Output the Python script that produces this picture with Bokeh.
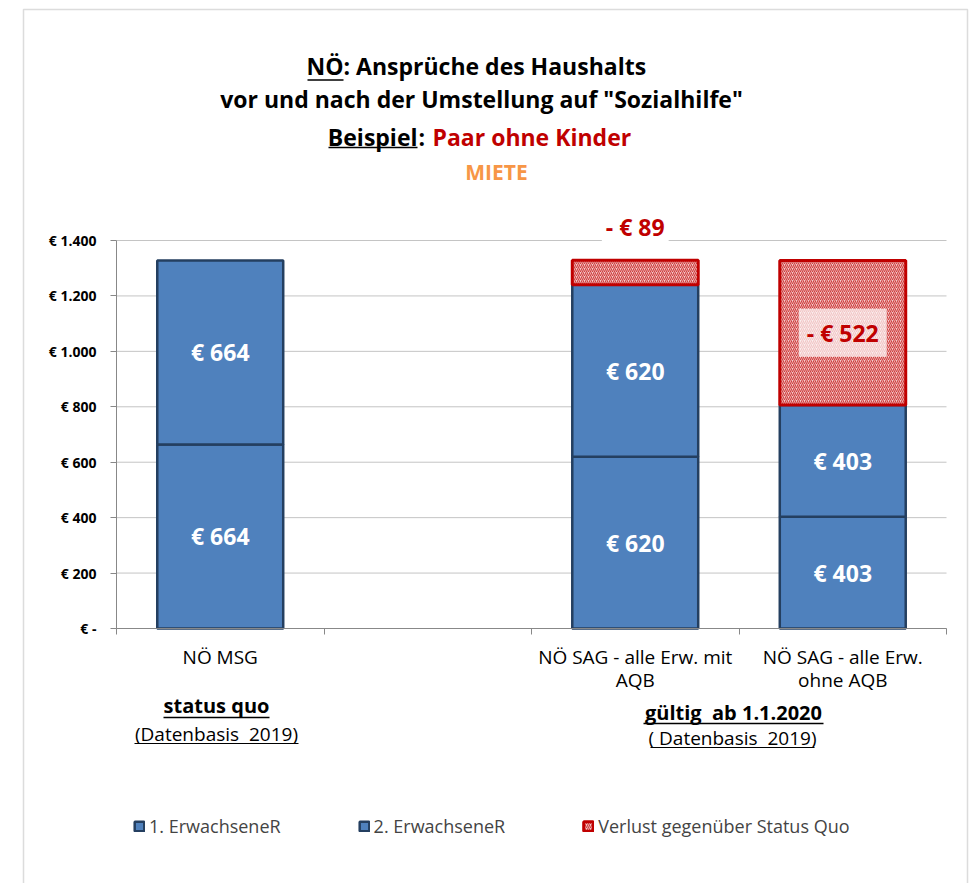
import numpy as np
from bokeh.plotting import figure
from bokeh.models import (ColumnDataSource, Range1d, FixedTicker, Label, Legend,
                          LegendItem, BoxAnnotation, Arrow)
from bokeh.core.properties import value
from bokeh.embed import file_html
from bokeh.resources import INLINE

# ---------------- data ----------------
categories = ["NÖ MSG", "NÖ SAG - alle Erw. mit AQB", "NÖ SAG - alle Erw. ohne AQB"]
tick_labels = ["NÖ MSG", "NÖ SAG - alle Erw. mit\nAQB", "NÖ SAG - alle Erw.\nohne AQB"]
slots = [0, 2, 3]          # category slot (slot 1 is an empty gap)
n_slots = 4
erw1 = [664, 620, 403]     # 1. ErwachseneR
erw2 = [664, 620, 403]     # 2. ErwachseneR
verlust = [0, 89, 522]     # Verlust gegenüber Status Quo
series_names = ["1. ErwachseneR", "2. ErwachseneR", "Verlust gegenüber Status Quo"]
y_ticks = [0, 200, 400, 600, 800, 1000, 1200, 1400]
y_tick_labels = ["€ -", "€ 200", "€ 400", "€ 600", "€ 800", "€ 1.000", "€ 1.200", "€ 1.400"]
y_max = 1400

# ---------------- geometry (page pixels of the plot area) ----------------
W, H = 969, 883
FL, FR, FT, FB = 116, 946, 240, 628


def dx(px):
    return (px - FL) / (FR - FL) * n_slots


def dy(py):
    return (FB - py) / (FB - FT) * y_max


FONT = "Open Sans"
BLUE = "#4F81BD"
NAVY = "#243F60"
RED = "#C00000"
ORANGE = "#F79646"
GRAY = "#888888"
NB = "\u00a0"

p = figure(width=W, height=H, x_range=Range1d(dx(0), dx(W)), y_range=Range1d(dy(H), dy(0)),
           output_backend="svg", toolbar_location=None, min_border=0)
p.outline_line_color = None
p.background_fill_color = "white"
p.border_fill_color = "white"
p.xgrid.grid_line_color = None
p.ygrid.grid_line_color = None

# gridlines (drawn through the data scales)
p.segment(x0=[0] * len(y_ticks), x1=[n_slots] * len(y_ticks), y0=y_ticks, y1=y_ticks,
          line_color="#C4C4C4", line_width=1)

# y axis
p.yaxis.fixed_location = 0
p.yaxis.bounds = (0, y_max)
p.yaxis.ticker = FixedTicker(ticks=y_ticks, minor_ticks=[])
p.yaxis.major_label_overrides = {t: l for t, l in zip(y_ticks, y_tick_labels)}
p.yaxis.major_label_text_font = FONT
p.yaxis.major_label_text_font_style = "bold"
p.yaxis.major_label_text_font_size = "14px"
p.yaxis.major_label_text_color = "black"
p.yaxis.axis_line_color = GRAY
p.yaxis.major_tick_line_color = GRAY
p.yaxis.major_tick_out = 6
p.yaxis.major_tick_in = 0
p.yaxis.minor_tick_line_color = None
p.yaxis.major_label_standoff = 14

# x axis
x_centers = [s + 0.5 for s in slots]
p.xaxis.fixed_location = 0
p.xaxis.bounds = (0, n_slots)
p.xaxis.ticker = FixedTicker(ticks=x_centers, minor_ticks=list(range(n_slots + 1)))
p.xaxis.major_label_overrides = {c: l for c, l in zip(x_centers, tick_labels)}
p.xaxis.major_label_text_font = FONT
p.xaxis.major_label_text_font_size = "19px"
p.xaxis.major_label_text_color = "black"
p.xaxis.major_label_text_line_height = 0.9
p.xaxis.axis_line_color = GRAY
p.xaxis.major_tick_line_color = None
p.xaxis.major_tick_out = 0
p.xaxis.major_tick_in = 0
p.xaxis.minor_tick_line_color = GRAY
p.xaxis.minor_tick_out = 6
p.xaxis.minor_tick_in = 0
p.xaxis.major_label_standoff = 9

# ---------------- bars ----------------
e1 = np.array(erw1, dtype=float)
e2 = np.array(erw2, dtype=float)
vl = np.array(verlust, dtype=float)
bw = 0.607

src = ColumnDataSource(dict(x=x_centers, b1=np.zeros(3), t1=e1, b2=e1, t2=e1 + e2,
                            m1=e1 / 2, m2=e1 + e2 / 2,
                            l1=[f"€ {int(v)}" for v in e1], l2=[f"€ {int(v)}" for v in e2]))
r1 = p.vbar(x="x", width=bw, bottom="b1", top="t1", source=src,
            fill_color=BLUE, line_color=NAVY, line_width=2.5)
r2 = p.vbar(x="x", width=bw, bottom="b2", top="t2", source=src,
            fill_color=BLUE, line_color=NAVY, line_width=2.5)

mask = vl > 0
src_l = ColumnDataSource(dict(x=np.array(x_centers)[mask], b=(e1 + e2)[mask],
                              t=(e1 + e2 + vl)[mask]))
r3 = p.vbar(x="x", width=bw, bottom="b", top="t", source=src_l,
            fill_color="#F2CACA", hatch_pattern="/", hatch_color=RED, hatch_alpha=0.7,
            hatch_scale=4, hatch_weight=1.1, line_color=RED, line_width=3)

for col_y, col_t in (("m1", "l1"), ("m2", "l2")):
    p.text(x="x", y=col_y, text=col_t, source=src, text_color="white",
           text_font=value(FONT), text_font_style="bold", text_font_size="23px",
           text_align="center", text_baseline="middle")

px_per_unit = (FB - FT) / y_max
for xc, base, v in zip(x_centers, e1 + e2, vl):
    if v <= 0:
        continue
    txt = f"- € {int(v)}"
    if v * px_per_unit < 45:
        lab = Label(x=xc, y=base + v, y_offset=33, text=txt, text_align="center",
                    text_baseline="middle", text_color=RED, text_font=FONT,
                    text_font_style="bold", text_font_size="23px",
                    background_fill_color="white", background_fill_alpha=1.0, padding=4)
    else:
        lab = Label(x=xc, y=base + v / 2, text=txt, text_align="center",
                    text_baseline="middle", text_color=RED, text_font=FONT,
                    text_font_style="bold", text_font_size="23px",
                    background_fill_color="white", background_fill_alpha=0.7, padding=8)
    p.add_layout(lab)

# ---------------- legend ----------------
legend = Legend(items=[LegendItem(label=series_names[0], renderers=[r1]),
                       LegendItem(label=series_names[1], renderers=[r2]),
                       LegendItem(label=series_names[2], renderers=[r3])],
                orientation="horizontal", location=(133, H - 838),
                border_line_color=None, background_fill_alpha=0, padding=0, margin=0,
                spacing=77, glyph_width=12, glyph_height=12, label_standoff=4,
                label_text_font=FONT, label_text_font_size="18px", label_height=18)
p.add_layout(legend)


# ---------------- texts ----------------
def add_text(text, px, mid_py, align="center", size="23px", style="bold", color="black"):
    p.add_layout(Label(x=dx(px), y=dy(mid_py), text=text, text_align=align,
                       text_baseline="middle", text_font=FONT, text_font_size=size,
                       text_font_style=style, text_color=color))


def underline(px0, px1, py, width=1.5):
    p.add_layout(Arrow(end=None, start=None, x_start=dx(px0), y_start=dy(py),
                       x_end=dx(px1), y_end=dy(py), line_color="black", line_width=width))


# title
add_text("NÖ", 343, 65, align="right")
add_text(": Ansprüche des Haushalts", 343, 65, align="left")
underline(307, 343, 79.5)
add_text('vor und nach der Umstellung auf "Sozialhilfe"', 481, 98)
add_text("Beispiel", 417, 136, align="right")
add_text(":", 418, 136, align="left")
add_text("Paar ohne Kinder", 432, 136, align="left", color=RED)
underline(328, 417, 147)
add_text("MIETE", 496, 171.5, size="21px", color=ORANGE)

# group labels
add_text("status quo", 216, 705, size="20px")
underline(163, 269, 717)
add_text(f"(Datenbasis {NB}2019)", 216, 733, size="19px", style="normal")
underline(134, 298, 743, width=1.2)
add_text(f"gültig {NB}ab 1.1.2020", 733, 712, size="20px")
underline(643, 823, 723)
add_text(f"( Datenbasis {NB}2019)", 732, 737.5, size="19px", style="normal")
underline(650, 814, 747, width=1.2)

# outer chart frame
p.add_layout(BoxAnnotation(left=dx(23), right=dx(967), top=dy(9), bottom=dy(900),
                           fill_alpha=0, line_color="#8C8C8C", line_width=1.5))

open("out.html", "w").write(file_html(p, INLINE))
